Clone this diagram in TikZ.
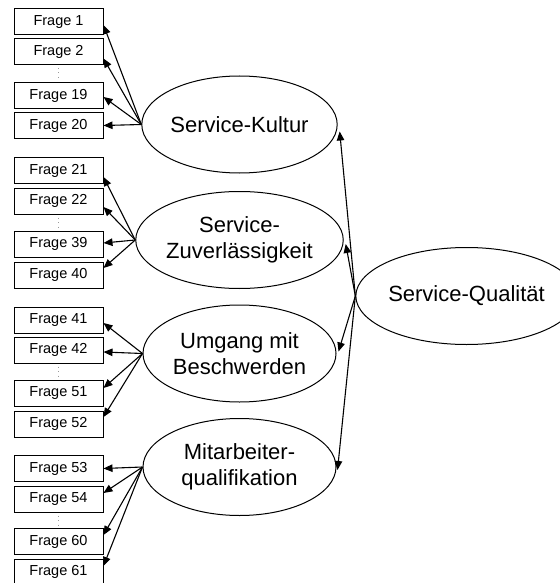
\documentclass[tikz,border=0pt]{standalone}
\usepackage{fontspec}
\setmainfont{Liberation Sans}
\usetikzlibrary{shapes.geometric,arrows.meta}
\begin{document}
\begin{tikzpicture}[x=1pt,y=-1pt,
  item/.style={draw, line width=1pt, rectangle, minimum width=89pt, minimum height=26pt,
    inner sep=0pt, font=\fontsize{14.5}{16}\selectfont},
  factor/.style={draw, line width=1pt, ellipse, minimum width=193pt, minimum height=97pt,
    inner sep=0pt, align=center, font=\fontsize{22}{26.5}\selectfont},
  link/.style={line width=1.1pt, -{Triangle[length=9pt,width=7.5pt]}},
  gap/.style={gray!80, line width=1pt, dash pattern=on 1pt off 3.5pt}]
\useasboundingbox (0,0) rectangle (559,583);

% indicator boxes
\node[item] (f1)  at (58.5,22)    {Frage 1};
\node[item] (f2)  at (58.5,51.5)  {Frage 2};
\node[item] (f19) at (58.5,95.5)  {Frage 19};
\node[item] (f20) at (58.5,125.5) {Frage 20};

\node[item] (f21) at (58.5,170.5) {Frage 21};
\node[item] (f22) at (58.5,201)   {Frage 22};
\node[item] (f39) at (58.5,244)   {Frage 39};
\node[item] (f40) at (58.5,275)   {Frage 40};

\node[item] (f41) at (58.5,320)   {Frage 41};
\node[item] (f42) at (58.5,350)   {Frage 42};
\node[item] (f51) at (58.5,393.5) {Frage 51};
\node[item] (f52) at (58.5,424)   {Frage 52};

\node[item] (f53) at (58.5,468.5) {Frage 53};
\node[item] (f54) at (58.5,499)   {Frage 54};
\node[item] (f60) at (58.5,541.5) {Frage 60};
\node[item] (f61) at (58.5,572)   {Frage 61};

% omitted items
\foreach \a/\b in {f2/f19, f22/f39, f42/f51, f54/f60}
  \draw[gap] ([yshift=-3pt]\a.south) -- ([yshift=2pt]\b.north);

% latent factors
\node[factor] (kult) at (239.5,124.5) {Service-Kultur};
\node[factor] (zuv)  at (239.5,240)   {Service-\\Zuverlässigkeit};
\node[factor] (umg)  at (239.5,353.5) {Umgang mit\\Beschwerden};
\node[factor] (mit)  at (239.5,467)   {Mitarbeiter-\\qualifikation};
\node[factor, minimum width=184pt] (sq) at (466.5,296) {Service-Qualität};

% factor -> indicators
\foreach \b/\d in {f1/3, f2/7, f19/1.5, f20/0}
  \draw[link] (kult.west) -- ([yshift=-\d pt]\b.east);
\foreach \b/\d in {f21/6.5, f22/6, f39/-1, f40/-7}
  \draw[link] (zuv.west) -- ([yshift=-\d pt]\b.east);
\foreach \b/\d in {f41/3, f42/2, f51/-5.5, f52/-7}
  \draw[link] (umg.west) -- ([yshift=-\d pt]\b.east);
\foreach \b/\d in {f53/0, f54/-6, f60/-6.5, f61/-6}
  \draw[link] (mit.west) -- ([yshift=-\d pt]\b.east);

% second-order factor -> first-order factors
\draw[link] (sq.west) -- ([shift={(2pt,-7pt)}]kult.east);
\draw[link] (sq.west) -- ([shift={(2pt,-4pt)}]zuv.east);
\draw[link] (sq.west) -- ([shift={(2pt,2pt)}]umg.east);
\draw[link] (sq.west) -- ([shift={(1pt,-3pt)}]mit.east);
\end{tikzpicture}
\end{document}
